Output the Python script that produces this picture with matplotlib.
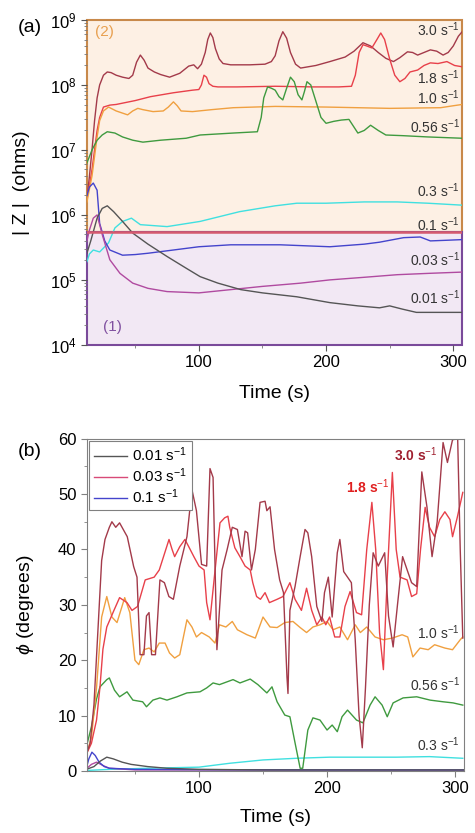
import numpy as np
import matplotlib
matplotlib.use("Agg")
import matplotlib.pyplot as plt

plt.rcParams['font.family'] = ['Liberation Sans', 'DejaVu Sans']
plt.rcParams['mathtext.fontset'] = 'custom'
plt.rcParams['mathtext.rm'] = 'Liberation Sans'
plt.rcParams['mathtext.it'] = 'Liberation Sans:italic'
plt.rcParams['mathtext.bf'] = 'Liberation Sans:bold'

# ---- (a) |Z| vs time, values as log10(ohms) ----
za_30_t = [12, 14, 16, 18, 20, 22, 25, 28, 31, 35, 40, 45, 48, 51, 54, 57, 60, 65, 70, 77, 85, 92, 96, 99, 102, 105, 107, 109, 111, 113, 116, 119, 125, 140, 152, 157, 160, 163, 166, 169, 172, 176, 180, 192, 203, 215, 222, 229, 235, 241, 247, 253, 258, 264, 268, 272, 277, 282, 287, 292, 296, 300, 304, 307]
za_30_v = [6.25, 6.6, 7.0, 7.45, 7.8, 8.0, 8.15, 8.2, 8.19, 8.15, 8.12, 8.1, 8.15, 8.35, 8.46, 8.38, 8.26, 8.2, 8.16, 8.12, 8.18, 8.29, 8.31, 8.25, 8.32, 8.5, 8.7, 8.8, 8.73, 8.56, 8.4, 8.33, 8.31, 8.31, 8.32, 8.36, 8.45, 8.68, 8.82, 8.72, 8.5, 8.32, 8.26, 8.3, 8.36, 8.43, 8.52, 8.65, 8.6, 8.5, 8.41, 8.36, 8.42, 8.51, 8.5, 8.46, 8.5, 8.54, 8.52, 8.46, 8.5, 8.6, 8.75, 8.82]

za_18_t = [12, 14, 16, 18, 20, 22, 25, 30, 35, 50, 62, 80, 95, 100, 102, 104, 106, 108, 111, 115, 130, 160, 190, 210, 220, 223, 226, 229, 232, 236, 240, 243, 246, 250, 254, 258, 262, 266, 272, 277, 282, 288, 295, 301, 307]
za_18_v = [6.3, 6.45, 6.7, 7.0, 7.3, 7.5, 7.66, 7.69, 7.7, 7.76, 7.82, 7.88, 7.92, 7.93, 8.0, 8.15, 8.12, 8.02, 7.98, 7.97, 7.97, 7.98, 7.97, 7.97, 7.98, 8.15, 8.5, 8.62, 8.6, 8.57, 8.7, 8.8, 8.7, 8.4, 8.15, 8.05, 8.1, 8.2, 8.23, 8.3, 8.34, 8.33, 8.36, 8.3, 8.28]

za_10_t = [12, 14, 16, 18, 20, 22, 25, 29, 35, 44, 48, 52, 56, 64, 72, 76, 80, 83, 86, 95, 110, 127, 160, 200, 250, 290, 300, 307]
za_10_v = [6.2, 6.4, 6.6, 6.9, 7.2, 7.45, 7.6, 7.66, 7.6, 7.54, 7.6, 7.64, 7.62, 7.59, 7.6, 7.66, 7.74, 7.68, 7.6, 7.59, 7.62, 7.65, 7.67, 7.66, 7.64, 7.65, 7.68, 7.7]

za_056_t = [12, 16, 20, 24, 28, 34, 40, 48, 56, 70, 90, 101, 127, 146, 149, 151, 154, 157, 160, 163, 166, 169, 172, 175, 178, 181, 183, 185, 188, 192, 196, 200, 206, 212, 218, 222, 225, 230, 235, 241, 247, 260, 280, 307]
za_056_v = [6.8, 7.0, 7.15, 7.23, 7.28, 7.26, 7.2, 7.15, 7.12, 7.15, 7.18, 7.23, 7.26, 7.28, 7.5, 7.8, 7.97, 7.95, 7.92, 7.82, 7.77, 7.95, 8.12, 8.05, 7.85, 7.77, 7.9, 8.05, 8.0, 7.75, 7.5, 7.41, 7.44, 7.46, 7.47, 7.35, 7.26, 7.3, 7.38, 7.3, 7.23, 7.22, 7.2, 7.18]

za_03_t = [12, 14, 17, 22, 29, 34, 40, 47, 54, 75, 101, 132, 160, 177, 200, 230, 256, 280, 307]
za_03_v = [5.28, 5.4, 5.46, 5.43, 5.57, 5.8, 5.9, 5.95, 5.85, 5.82, 5.9, 6.05, 6.14, 6.18, 6.18, 6.2, 6.2, 6.18, 6.15]

za_01_t = [12, 14, 17, 20, 22, 26, 30, 35, 40, 50, 60, 80, 100, 125, 164, 203, 230, 242, 261, 274, 282, 295, 307]
za_01_v = [6.3, 6.43, 6.49, 6.38, 5.87, 5.6, 5.46, 5.42, 5.38, 5.39, 5.41, 5.46, 5.51, 5.54, 5.54, 5.51, 5.55, 5.58, 5.65, 5.66, 5.6, 5.61, 5.62]

za_003_t = [12, 14, 17, 20, 24, 30, 38, 48, 60, 75, 100, 120, 150, 180, 203, 230, 256, 280, 307]
za_003_v = [5.6, 5.77, 5.95, 6.0, 5.7, 5.31, 5.1, 4.95, 4.87, 4.82, 4.8, 4.84, 4.9, 4.95, 5.0, 5.04, 5.08, 5.1, 5.12]

za_001_t = [12, 15, 20, 24, 28, 33, 40, 48, 60, 75, 90, 101, 115, 133, 150, 177, 203, 225, 242, 250, 260, 271, 290, 307]
za_001_v = [5.41, 5.6, 5.95, 6.1, 6.14, 6.05, 5.9, 5.72, 5.55, 5.36, 5.18, 5.05, 4.95, 4.85, 4.8, 4.74, 4.65, 4.6, 4.57, 4.6, 4.55, 4.5, 4.5, 4.5]

# ---- (b) phase angle vs time (degrees) ----
pb_30_t = [12, 15, 18, 21, 24, 26.6, 30, 32, 35, 38, 44, 49, 51.6, 54, 57, 59, 61, 63, 66, 69.5, 73, 76.5, 80, 85, 90.6, 94.5, 98, 102, 106, 108.6, 111, 114, 118, 122, 126, 130, 133.6, 136, 138, 141, 144, 147.7, 151.6, 153, 155.5, 159, 163, 166, 168.7, 169.5, 171, 175, 179, 182.8, 185, 188, 192, 196, 198, 201, 204, 208, 210, 213, 216, 219, 222, 225, 227.5, 230, 233, 236, 240, 245, 248, 251.6, 255, 259, 263, 266, 270, 274, 278, 282, 286, 290.6, 294, 298, 302, 304, 306]
pb_30_v = [3, 5, 12, 25, 38, 41.8, 44, 45, 44, 44.8, 42.3, 36.9, 35, 21, 21, 28, 28.6, 21, 21, 34.5, 34, 31.5, 31, 37, 42.3, 50.8, 47, 37.3, 37, 54.6, 53, 21.9, 36.3, 40, 44, 43.6, 38.7, 43.3, 43, 36.3, 40, 48.5, 48.7, 47, 47.7, 40, 34.5, 32.2, 17, 14, 29, 33.3, 38.7, 43.6, 43, 38.7, 29.7, 27, 32.2, 35, 27.8, 39.4, 41.8, 36, 35, 34, 23.7, 10, 4.2, 15, 30, 39.4, 37, 39.4, 28, 22.4, 30, 38.7, 36, 34, 33.3, 54, 47.7, 38.7, 45, 59.3, 55.7, 59.8, 60, 40, 24]

pb_18_t = [12, 16, 20, 22.7, 25, 28, 33.6, 38, 43.8, 47.7, 52, 58, 65, 69, 76.6, 79, 81, 85, 89, 92, 96, 100, 104, 106, 108.6, 112, 116.4, 120, 122.6, 124, 128, 132, 136, 140, 142, 145, 148, 151.6, 155, 161, 165.6, 171, 175, 180, 184, 188, 192, 196, 199, 202, 206, 210, 214, 218, 223, 227, 231, 235, 238, 241, 244, 247, 251, 254, 257, 262.5, 266, 270, 273, 276.6, 280, 284, 288, 292, 296, 298, 301.6, 306]
pb_18_v = [3, 5, 9.2, 15.2, 22, 26, 29, 31.3, 30.4, 29, 29.7, 34.5, 35, 36.3, 41.8, 40, 38.7, 40.5, 41.8, 40.5, 38.7, 37, 36.3, 30.4, 27.3, 35, 44.8, 45.7, 46, 44, 40.3, 38.7, 37, 36.3, 34, 31.5, 31, 32.2, 30.4, 31, 31.5, 34, 31, 29, 33, 29, 26.4, 27.8, 26.4, 27.8, 24.2, 24.2, 29.7, 32.4, 28.6, 28.2, 40, 48.5, 40, 25, 18.3, 35, 53.9, 40, 35, 34.5, 31.5, 32, 40, 47.6, 44, 42.3, 45.4, 46.8, 45.4, 42.3, 45.7, 50.3]

pb_10_t = [12, 16, 20, 24, 28, 32, 36, 42, 46, 50, 53, 57, 61, 65, 69, 73.5, 77, 81, 85, 90.6, 94.5, 98, 102, 108, 112.5, 116, 121, 126, 130, 137.5, 144, 150, 155.5, 161, 167, 173.4, 179, 184, 189, 194.5, 200, 204.7, 210, 216, 222, 226, 231, 237.5, 244, 251, 258.6, 263, 267, 272.6, 279, 284, 292, 298, 304, 306]
pb_10_v = [3, 6, 15, 27.8, 31.5, 27.8, 26.8, 31.3, 28.6, 20, 19.2, 21.9, 22.2, 21.5, 23.1, 23.1, 21.3, 20.4, 21, 27.3, 26, 24.2, 25, 24.2, 23.1, 26.4, 26, 27, 25.5, 24.6, 24, 27.8, 26, 25.9, 26.8, 27, 25.9, 25, 26, 26.4, 27, 25.5, 26, 23.7, 26.4, 25, 26, 24.2, 23.7, 24, 24.6, 24.2, 20.6, 22.2, 21.9, 22.8, 22.2, 21.9, 23.7, 24.2]

pb_056_t = [12, 16, 20, 22.7, 28, 30, 34, 38, 43.8, 48.4, 56, 59, 64, 69.5, 75, 82.8, 90.6, 100.8, 106, 111, 116, 126.6, 132, 140, 146, 153, 157, 161, 167, 171, 175, 179, 181, 185, 189, 194.5, 200, 204, 208, 211.7, 216, 223, 228, 233.6, 237.5, 243, 247, 251.6, 259.4, 270, 280.5, 290.6, 298.4, 306]
pb_056_v = [4.3, 8, 13, 15.2, 16.5, 16.8, 14.6, 13.4, 14.3, 12.8, 12.5, 11.6, 12.8, 13.2, 12.8, 13.4, 14.1, 14.3, 15, 15.9, 15.6, 16.5, 15.9, 16.6, 15.6, 14.1, 15.2, 12.5, 10.1, 9.8, 5.1, 0.5, 0.5, 7.4, 9.6, 9.2, 7.4, 8.3, 7.1, 9.8, 11, 9.2, 8.7, 11.9, 13.4, 11.9, 9.8, 12.3, 13.2, 13.4, 12.8, 12.5, 12.3, 11.9]

pb_03_t = [12, 30, 60, 100, 124, 150, 176, 202, 254, 280, 306]
pb_03_v = [0.1, 0.3, 0.5, 0.7, 1.4, 2.0, 2.3, 2.5, 2.5, 2.6, 2.3]

pb_01_t = [12, 14, 16.4, 19, 22, 26, 30, 50, 100, 200, 307]
pb_01_v = [0.5, 2.2, 3.4, 2.8, 1.6, 0.8, 0.5, 0.3, 0.25, 0.2, 0.2]

pb_003_t = [12, 16, 20, 25, 30, 50, 307]
pb_003_v = [0.4, 1.2, 1.6, 1.0, 0.5, 0.2, 0.15]

pb_001_t = [12, 18, 23, 28, 33, 40, 47, 60, 75, 100, 150, 307]
pb_001_v = [0.3, 0.8, 1.8, 2.5, 2.2, 1.6, 1.2, 0.8, 0.5, 0.3, 0.2, 0.2]

rates = ["3.0", "1.8", "1.0", "0.56", "0.3", "0.1", "0.03", "0.01"]
colors = ['#a33a4a', '#e8404a', '#f0a040', '#3f9a3f', '#40e0e0', '#4444cc', '#b04aa0', '#555555']

za = [(za_30_t, za_30_v), (za_18_t, za_18_v), (za_10_t, za_10_v), (za_056_t, za_056_v),
      (za_03_t, za_03_v), (za_01_t, za_01_v), (za_003_t, za_003_v), (za_001_t, za_001_v)]
pb = [(pb_30_t, pb_30_v), (pb_18_t, pb_18_v), (pb_10_t, pb_10_v), (pb_056_t, pb_056_v),
      (pb_03_t, pb_03_v), (pb_01_t, pb_01_v), (pb_003_t, pb_003_v), (pb_001_t, pb_001_v)]

fig = plt.figure(figsize=(4.75, 8.33), dpi=100)

# ------------------- panel (a) -------------------
ax = fig.add_axes([0.183, 0.586, 0.79, 0.39])
ax.set_yscale('log')
ax.set_xlim(12, 307)
ax.set_ylim(1e4, 1e9)
boundary = 5.5e5
ax.axhspan(boundary, 1e9, facecolor='#fdf0e4', edgecolor='#c8894a', lw=1.5, zorder=0, clip_on=False)
ax.axhspan(1e4, boundary, facecolor='#f2e8f4', edgecolor='#7a4a9a', lw=1.5, zorder=0, clip_on=False)
for (t, v), c in zip(za, colors):
    ax.plot(t, 10 ** np.array(v), color=c, lw=1.0, zorder=2)
ax.axhline(boundary, color='#d65a6e', lw=1.8, zorder=3)
for s in ax.spines.values():
    s.set_visible(False)

ax.set_xticks([100, 200, 300])
ax.set_xticks([50, 150, 250], minor=True)
ax.tick_params(axis='both', which='major', labelsize=12, direction='out', length=4, color='#555555')
ax.tick_params(axis='both', which='minor', direction='out', length=2, color='#777777')
ax.set_xlabel('Time (s)', fontsize=14)
ax.xaxis.set_label_coords(0.5, -0.125)
ax.set_ylabel('| Z |  (ohms)', fontsize=14)
ax.yaxis.set_label_coords(-0.153, 0.5)

lab_a = {"3.0": 8.85, "1.8": 8.11, "1.0": 7.8, "0.56": 7.35, "0.3": 6.38, "0.1": 5.85, "0.03": 5.31, "0.01": 4.72}
for r in rates:
    ax.text(305.5, 10 ** lab_a[r], r + ' s$^{-1}$', ha='right', va='center', fontsize=10, color='#333333', zorder=4)
ax.text(18, 10 ** 8.82, '(2)', color='#e8a050', fontsize=11, va='center')
ax.text(25, 10 ** 4.27, '(1)', color='#8050a0', fontsize=11, va='center')

fig.text(18 / 475, 1 - 27 / 833, '(a)', fontsize=14, va='center')

# ------------------- panel (b) -------------------
bx = fig.add_axes([0.183, 0.0744, 0.794, 0.399])
bx.set_xlim(12.5, 307)
bx.set_ylim(0, 60)
order = [4, 3, 2, 6, 5, 7, 1, 0]
for i in order:
    t, v = pb[i]
    bx.plot(t, v, color=colors[i], lw=1.0)
for s in bx.spines.values():
    s.set_color('#808080')
bx.set_xticks([100, 200, 300])
bx.set_xticks([50, 150, 250], minor=True)
bx.set_yticks([0, 10, 20, 30, 40, 50, 60])
bx.set_yticks([5, 15, 25, 35, 45, 55], minor=True)
bx.tick_params(axis='both', which='major', labelsize=12, direction='out', length=4, color='#808080')
bx.tick_params(axis='both', which='minor', direction='out', length=2, color='#808080')
bx.set_xlabel('Time (s)', fontsize=14)
bx.xaxis.set_label_coords(0.5, -0.115)
bx.set_ylabel(r'$\phi$ (degrees)', fontsize=14)
bx.yaxis.set_label_coords(-0.135, 0.5)

leg_handles = [plt.Line2D([], [], color=colors[7], lw=1.0),
               plt.Line2D([], [], color='#d84a78', lw=1.0),
               plt.Line2D([], [], color=colors[5], lw=1.0)]
leg = bx.legend(leg_handles, ['0.01 s$^{-1}$', '0.03 s$^{-1}$', '0.1 s$^{-1}$'], loc='upper left',
                fontsize=11, handlelength=2.2, handletextpad=0.3, labelspacing=0.15,
                borderaxespad=0.15, borderpad=0.3, fancybox=False, framealpha=1)
leg.get_frame().set_edgecolor('#808080')
leg.get_frame().set_linewidth(0.8)

bx.text(269.5, 57.1, '3.0 s$^{-1}$', ha='center', va='center', fontsize=10, fontweight='bold', color='#a02030')
bx.text(232, 51.4, '1.8 s$^{-1}$', ha='center', va='center', fontsize=10, fontweight='bold', color='#e02020')
bx.text(304, 25, '1.0 s$^{-1}$', ha='right', va='center', fontsize=10, color='#333333')
bx.text(304, 15.5, '0.56 s$^{-1}$', ha='right', va='center', fontsize=10, color='#333333')
bx.text(304, 4.7, '0.3 s$^{-1}$', ha='right', va='center', fontsize=10, color='#333333')

fig.text(18 / 475, 1 - 452 / 833, '(b)', fontsize=14, va='center')

fig.savefig('out.png', dpi=100)
